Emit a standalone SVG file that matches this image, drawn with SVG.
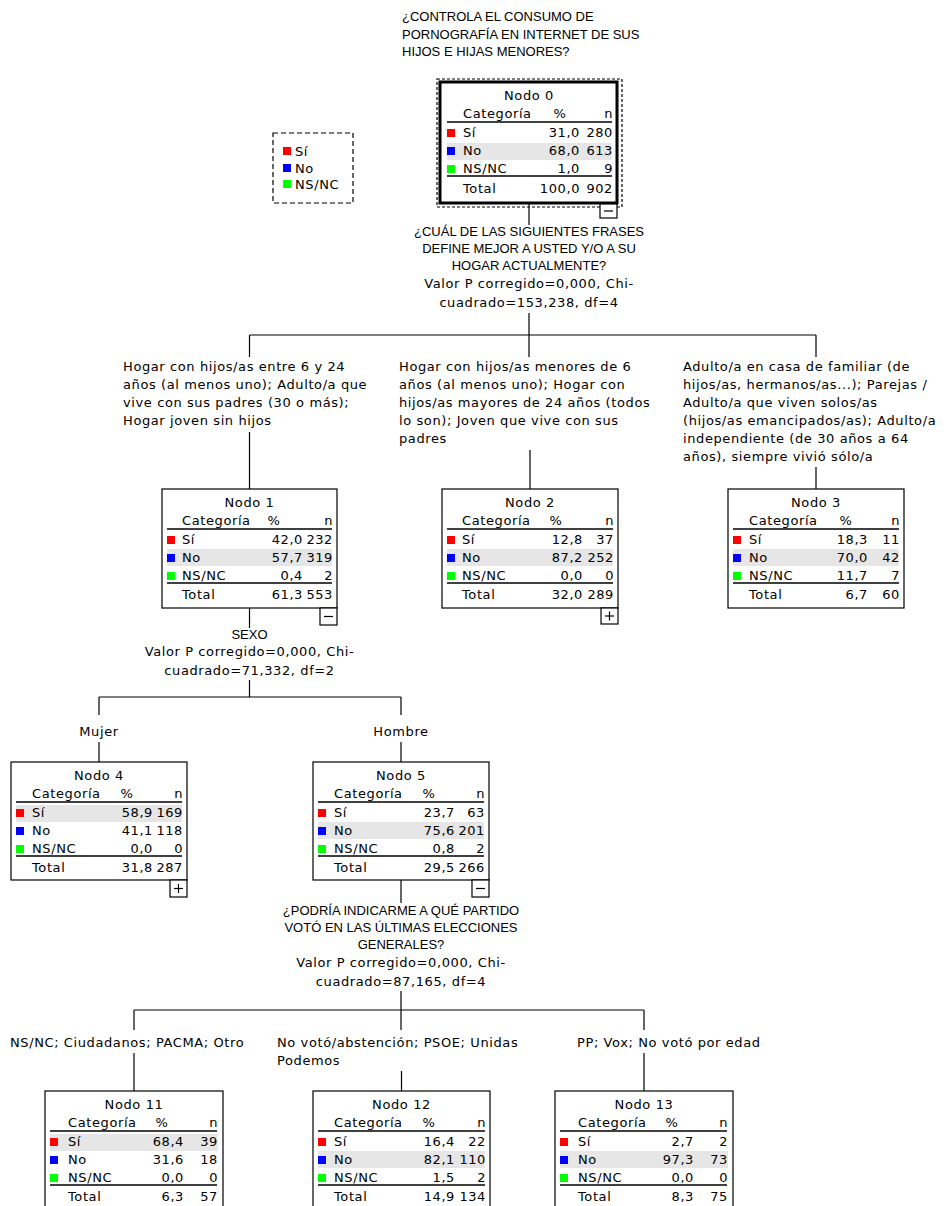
<svg xmlns="http://www.w3.org/2000/svg" width="948" height="1206" viewBox="0 0 948 1206">
<style>
.t{font-family:"DejaVu Sans",sans-serif;font-size:13px;letter-spacing:0.6px;fill:#000}
.q{font-family:"Liberation Sans",Arial,sans-serif;font-size:13px;fill:#000}
.m{text-anchor:middle}
.e{text-anchor:end}
.box{fill:#fff;stroke:#000;stroke-width:1.2}
.thick{fill:#fff;stroke:#000;stroke-width:3}
.rule{stroke:#000;stroke-width:1.6}
.hl{fill:#e6e6e6}
.r{fill:#ff0000}.b{fill:#0000ff}.g{fill:#00ff00}
.c{stroke:#000;stroke-width:1.2;fill:none}
.exp{fill:#fff;stroke:#000;stroke-width:1.2}
</style>
<defs>
<g id="cats">
<rect class="r" x="5" y="47" width="8" height="8"/>
<rect class="b" x="5" y="65" width="8" height="8"/>
<rect class="g" x="5" y="83" width="8" height="8"/>
</g>
</defs>

<!-- title -->
<g id="title">
<text class="q" x="402" y="21">¿CONTROLA EL CONSUMO DE</text>
<text class="q" x="402" y="39">PORNOGRAFÍA EN INTERNET DE SUS</text>
<text class="q" x="402" y="56">HIJOS E HIJAS MENORES?</text>
</g>

<!-- legend -->
<g id="legend">
<rect x="273" y="133" width="80" height="70" fill="none" stroke="#000" stroke-width="1.2" stroke-dasharray="5,3"/>
<rect class="r" x="283" y="147" width="8" height="8"/>
<rect class="b" x="283" y="164" width="8" height="8"/>
<rect class="g" x="283" y="180" width="8" height="8"/>
<text class="t" x="295" y="156">Sí</text>
<text class="t" x="295" y="173">No</text>
<text class="t" x="295" y="189">NS/NC</text>
</g>

<!-- connectors -->
<g id="connectors">
<line class="c" x1="529" y1="204" x2="529" y2="225"/>
<line class="c" x1="529" y1="313" x2="529" y2="335"/>
<line class="c" x1="249.5" y1="335" x2="816" y2="335"/>
<line class="c" x1="249.5" y1="335" x2="249.5" y2="357"/>
<line class="c" x1="529" y1="335" x2="529" y2="357"/>
<line class="c" x1="816" y1="335" x2="816" y2="357"/>
<line class="c" x1="249.5" y1="432" x2="249.5" y2="489"/>
<line class="c" x1="530" y1="450" x2="530" y2="489"/>
<line class="c" x1="816" y1="467" x2="816" y2="489"/>

<line class="c" x1="249.5" y1="608" x2="249.5" y2="628"/>
<line class="c" x1="249.5" y1="680" x2="249.5" y2="697"/>
<line class="c" x1="99" y1="697" x2="401" y2="697"/>
<line class="c" x1="99" y1="697" x2="99" y2="715"/>
<line class="c" x1="401" y1="697" x2="401" y2="715"/>
<line class="c" x1="99" y1="742" x2="99" y2="762"/>
<line class="c" x1="401" y1="742" x2="401" y2="762"/>

<line class="c" x1="401" y1="880" x2="401" y2="903"/>
<line class="c" x1="401" y1="991" x2="401" y2="1010"/>
<line class="c" x1="134" y1="1010" x2="644" y2="1010"/>
<line class="c" x1="134" y1="1010" x2="134" y2="1030"/>
<line class="c" x1="401" y1="1010" x2="401" y2="1030"/>
<line class="c" x1="644" y1="1010" x2="644" y2="1030"/>
<line class="c" x1="134" y1="1053" x2="134" y2="1091"/>
<line class="c" x1="401.5" y1="1071" x2="401.5" y2="1091"/>
<line class="c" x1="644" y1="1053" x2="644" y2="1091"/>
</g>

<!-- split labels -->
<g id="split0">
<text class="q m" x="529" y="236">¿CUÁL DE LAS SIGUIENTES FRASES</text>
<text class="q m" x="529" y="253">DEFINE MEJOR A USTED Y/O A SU</text>
<text class="q m" x="529" y="270">HOGAR ACTUALMENTE?</text>
<text class="t m" x="529" y="288">Valor P corregido=0,000, Chi-</text>
<text class="t m" x="529" y="307">cuadrado=153,238, df=4</text>
</g>
<g id="branches0">
<text class="t" x="123" y="371">Hogar con hijos/as entre 6 y 24</text>
<text class="t" x="123" y="389">años (al menos uno); Adulto/a que</text>
<text class="t" x="123" y="407">vive con sus padres (30 o más);</text>
<text class="t" x="123" y="425">Hogar joven sin hijos</text>
<text class="t" x="399" y="371">Hogar con hijos/as menores de 6</text>
<text class="t" x="399" y="389">años (al menos uno); Hogar con</text>
<text class="t" x="399" y="407">hijos/as mayores de 24 años (todos</text>
<text class="t" x="399" y="425">lo son); Joven que vive con sus</text>
<text class="t" x="399" y="443">padres</text>
<text class="t" x="683" y="371">Adulto/a en casa de familiar (de</text>
<text class="t" x="683" y="389">hijos/as, hermanos/as...); Parejas /</text>
<text class="t" x="683" y="407">Adulto/a que viven solos/as</text>
<text class="t" x="683" y="425">(hijos/as emancipados/as); Adulto/a</text>
<text class="t" x="683" y="443">independiente (de 30 años a 64</text>
<text class="t" x="683" y="461">años), siempre vivió sólo/a</text>
</g>
<g id="split1">
<text class="q m" x="249.5" y="639">SEXO</text>
<text class="t m" x="249.5" y="656">Valor P corregido=0,000, Chi-</text>
<text class="t m" x="249.5" y="675">cuadrado=71,332, df=2</text>
<text class="t m" x="99" y="736">Mujer</text>
<text class="t m" x="401" y="736">Hombre</text>
</g>
<g id="split5">
<text class="q m" x="401" y="915">¿PODRÍA INDICARME A QUÉ PARTIDO</text>
<text class="q m" x="401" y="932">VOTÓ EN LAS ÚLTIMAS ELECCIONES</text>
<text class="q m" x="401" y="949">GENERALES?</text>
<text class="t m" x="401" y="967">Valor P corregido=0,000, Chi-</text>
<text class="t m" x="401" y="986">cuadrado=87,165, df=4</text>
<text class="t" x="10" y="1047">NS/NC; Ciudadanos; PACMA; Otro</text>
<text class="t" x="277" y="1047">No votó/abstención; PSOE; Unidas</text>
<text class="t" x="277" y="1065">Podemos</text>
<text class="t" x="577" y="1047">PP; Vox; No votó por edad</text>
</g>

<!-- Node 0 -->
<g id="node0" transform="translate(440,82)">
<rect x="-3" y="-3" width="185" height="128" fill="none" stroke="#000" stroke-width="1.2" stroke-dasharray="3,2"/>
<rect class="thick" x="0" y="0" width="177" height="121"/>
<rect class="hl" x="7" y="61" width="165" height="17"/>
<text class="t m" x="89" y="18">Nodo 0</text>
<text class="t" x="23" y="36">Categoría</text>
<text class="t m" x="120" y="36">%</text>
<text class="t e" x="173" y="36">n</text>
<line class="rule" x1="7" y1="40" x2="172" y2="40"/>
<g transform="translate(2,0)"><use href="#cats"/></g>
<text class="t" x="23" y="55">Sí</text><text class="t e" x="140" y="55">31,0</text><text class="t e" x="173" y="55">280</text>
<text class="t" x="23" y="73">No</text><text class="t e" x="140" y="73">68,0</text><text class="t e" x="173" y="73">613</text>
<text class="t" x="23" y="91">NS/NC</text><text class="t e" x="140" y="91">1,0</text><text class="t e" x="173" y="91">9</text>
<line class="rule" x1="7" y1="94" x2="172" y2="94"/>
<text class="t" x="23" y="111">Total</text><text class="t e" x="140" y="111">100,0</text><text class="t e" x="173" y="111">902</text>
<rect class="exp" x="160" y="122" width="17" height="14"/>
<line class="c" x1="164" y1="129" x2="173" y2="129"/>
</g>

<!-- Node 1 -->
<g id="node1" transform="translate(162,489)">
<rect class="box" x="0" y="0" width="175" height="119"/>
<rect class="hl" x="5" y="60" width="165" height="17"/>
<text class="t m" x="87.5" y="18">Nodo 1</text>
<text class="t" x="20" y="36">Categoría</text>
<text class="t m" x="112" y="36">%</text>
<text class="t e" x="171" y="36">n</text>
<line class="rule" x1="5" y1="40" x2="170" y2="40"/>
<use href="#cats"/>
<text class="t" x="20" y="55">Sí</text><text class="t e" x="141" y="55">42,0</text><text class="t e" x="171" y="55">232</text>
<text class="t" x="20" y="73">No</text><text class="t e" x="141" y="73">57,7</text><text class="t e" x="171" y="73">319</text>
<text class="t" x="20" y="91">NS/NC</text><text class="t e" x="141" y="91">0,4</text><text class="t e" x="171" y="91">2</text>
<line class="rule" x1="5" y1="94" x2="170" y2="94"/>
<text class="t" x="20" y="110">Total</text><text class="t e" x="141" y="110">61,3</text><text class="t e" x="171" y="110">553</text>
<rect class="exp" x="158" y="119" width="17" height="17"/>
<line class="c" x1="162" y1="127.5" x2="171" y2="127.5"/>
</g>

<!-- Node 2 -->
<g id="node2" transform="translate(442,489)">
<rect class="box" x="0" y="0" width="176" height="119"/>
<rect class="hl" x="5" y="60" width="166" height="17"/>
<text class="t m" x="88" y="18">Nodo 2</text>
<text class="t" x="20" y="36">Categoría</text>
<text class="t m" x="114" y="36">%</text>
<text class="t e" x="172" y="36">n</text>
<line class="rule" x1="5" y1="40" x2="171" y2="40"/>
<use href="#cats"/>
<text class="t" x="20" y="55">Sí</text><text class="t e" x="141" y="55">12,8</text><text class="t e" x="172" y="55">37</text>
<text class="t" x="20" y="73">No</text><text class="t e" x="141" y="73">87,2</text><text class="t e" x="172" y="73">252</text>
<text class="t" x="20" y="91">NS/NC</text><text class="t e" x="141" y="91">0,0</text><text class="t e" x="172" y="91">0</text>
<line class="rule" x1="5" y1="94" x2="171" y2="94"/>
<text class="t" x="20" y="110">Total</text><text class="t e" x="141" y="110">32,0</text><text class="t e" x="172" y="110">289</text>
<rect class="exp" x="159" y="119" width="17" height="16"/>
<line class="c" x1="163" y1="127" x2="172" y2="127"/>
<line class="c" x1="167.5" y1="122.5" x2="167.5" y2="131.5"/>
</g>

<!-- Node 3 -->
<g id="node3" transform="translate(728,489)">
<rect class="box" x="0" y="0" width="176" height="119"/>
<rect class="hl" x="5" y="60" width="166" height="17"/>
<text class="t m" x="88" y="18">Nodo 3</text>
<text class="t" x="21" y="36">Categoría</text>
<text class="t m" x="118" y="36">%</text>
<text class="t e" x="172" y="36">n</text>
<line class="rule" x1="5" y1="40" x2="171" y2="40"/>
<use href="#cats"/>
<text class="t" x="21" y="55">Sí</text><text class="t e" x="140" y="55">18,3</text><text class="t e" x="172" y="55">11</text>
<text class="t" x="21" y="73">No</text><text class="t e" x="140" y="73">70,0</text><text class="t e" x="172" y="73">42</text>
<text class="t" x="21" y="91">NS/NC</text><text class="t e" x="140" y="91">11,7</text><text class="t e" x="172" y="91">7</text>
<line class="rule" x1="5" y1="94" x2="171" y2="94"/>
<text class="t" x="21" y="110">Total</text><text class="t e" x="140" y="110">6,7</text><text class="t e" x="172" y="110">60</text>
</g>

<!-- Node 4 -->
<g id="node4" transform="translate(11,762)">
<rect class="box" x="0" y="0" width="176" height="118"/>
<rect class="hl" x="5" y="43" width="166" height="17"/>
<text class="t m" x="88" y="18">Nodo 4</text>
<text class="t" x="21" y="36">Categoría</text>
<text class="t m" x="116" y="36">%</text>
<text class="t e" x="172" y="36">n</text>
<line class="rule" x1="5" y1="40" x2="171" y2="40"/>
<use href="#cats"/>
<text class="t" x="21" y="55">Sí</text><text class="t e" x="142" y="55">58,9</text><text class="t e" x="172" y="55">169</text>
<text class="t" x="21" y="73">No</text><text class="t e" x="142" y="73">41,1</text><text class="t e" x="172" y="73">118</text>
<text class="t" x="21" y="91">NS/NC</text><text class="t e" x="142" y="91">0,0</text><text class="t e" x="172" y="91">0</text>
<line class="rule" x1="5" y1="94" x2="171" y2="94"/>
<text class="t" x="21" y="110">Total</text><text class="t e" x="142" y="110">31,8</text><text class="t e" x="172" y="110">287</text>
<rect class="exp" x="159" y="118" width="17" height="17"/>
<line class="c" x1="163" y1="126.5" x2="172" y2="126.5"/>
<line class="c" x1="167.5" y1="122" x2="167.5" y2="131"/>
</g>

<!-- Node 5 -->
<g id="node5" transform="translate(313,762)">
<rect class="box" x="0" y="0" width="176" height="118"/>
<rect class="hl" x="5" y="60" width="166" height="17"/>
<text class="t m" x="88" y="18">Nodo 5</text>
<text class="t" x="21" y="36">Categoría</text>
<text class="t m" x="116" y="36">%</text>
<text class="t e" x="172" y="36">n</text>
<line class="rule" x1="5" y1="40" x2="171" y2="40"/>
<use href="#cats"/>
<text class="t" x="21" y="55">Sí</text><text class="t e" x="142" y="55">23,7</text><text class="t e" x="172" y="55">63</text>
<text class="t" x="21" y="73">No</text><text class="t e" x="142" y="73">75,6</text><text class="t e" x="172" y="73">201</text>
<text class="t" x="21" y="91">NS/NC</text><text class="t e" x="142" y="91">0,8</text><text class="t e" x="172" y="91">2</text>
<line class="rule" x1="5" y1="94" x2="171" y2="94"/>
<text class="t" x="21" y="110">Total</text><text class="t e" x="142" y="110">29,5</text><text class="t e" x="172" y="110">266</text>
<rect class="exp" x="159" y="118" width="17" height="17"/>
<line class="c" x1="163" y1="126.5" x2="172" y2="126.5"/>
</g>

<!-- Node 11 -->
<g id="node11" transform="translate(45,1091)">
<rect class="box" x="0" y="0" width="178" height="119"/>
<rect class="hl" x="5" y="43" width="168" height="17"/>
<text class="t m" x="89" y="18">Nodo 11</text>
<text class="t" x="23" y="36">Categoría</text>
<text class="t m" x="117" y="36">%</text>
<text class="t e" x="173" y="36">n</text>
<line class="rule" x1="5" y1="40" x2="172" y2="40"/>
<use href="#cats"/>
<text class="t" x="23" y="55">Sí</text><text class="t e" x="139" y="55">68,4</text><text class="t e" x="173" y="55">39</text>
<text class="t" x="23" y="73">No</text><text class="t e" x="139" y="73">31,6</text><text class="t e" x="173" y="73">18</text>
<text class="t" x="23" y="91">NS/NC</text><text class="t e" x="139" y="91">0,0</text><text class="t e" x="173" y="91">0</text>
<line class="rule" x1="5" y1="94" x2="172" y2="94"/>
<text class="t" x="23" y="110">Total</text><text class="t e" x="139" y="110">6,3</text><text class="t e" x="173" y="110">57</text>
</g>

<!-- Node 12 -->
<g id="node12" transform="translate(313,1091)">
<rect class="box" x="0" y="0" width="177" height="119"/>
<rect class="hl" x="5" y="60" width="167" height="17"/>
<text class="t m" x="88.5" y="18">Nodo 12</text>
<text class="t" x="21" y="36">Categoría</text>
<text class="t m" x="116" y="36">%</text>
<text class="t e" x="173" y="36">n</text>
<line class="rule" x1="5" y1="40" x2="172" y2="40"/>
<use href="#cats"/>
<text class="t" x="21" y="55">Sí</text><text class="t e" x="142" y="55">16,4</text><text class="t e" x="173" y="55">22</text>
<text class="t" x="21" y="73">No</text><text class="t e" x="142" y="73">82,1</text><text class="t e" x="173" y="73">110</text>
<text class="t" x="21" y="91">NS/NC</text><text class="t e" x="142" y="91">1,5</text><text class="t e" x="173" y="91">2</text>
<line class="rule" x1="5" y1="94" x2="172" y2="94"/>
<text class="t" x="21" y="110">Total</text><text class="t e" x="142" y="110">14,9</text><text class="t e" x="173" y="110">134</text>
</g>

<!-- Node 13 -->
<g id="node13" transform="translate(555,1091)">
<rect class="box" x="0" y="0" width="178" height="119"/>
<rect class="hl" x="5" y="60" width="168" height="17"/>
<text class="t m" x="89" y="18">Nodo 13</text>
<text class="t" x="23" y="36">Categoría</text>
<text class="t m" x="117" y="36">%</text>
<text class="t e" x="173" y="36">n</text>
<line class="rule" x1="5" y1="40" x2="172" y2="40"/>
<use href="#cats"/>
<text class="t" x="23" y="55">Sí</text><text class="t e" x="139" y="55">2,7</text><text class="t e" x="173" y="55">2</text>
<text class="t" x="23" y="73">No</text><text class="t e" x="139" y="73">97,3</text><text class="t e" x="173" y="73">73</text>
<text class="t" x="23" y="91">NS/NC</text><text class="t e" x="139" y="91">0,0</text><text class="t e" x="173" y="91">0</text>
<line class="rule" x1="5" y1="94" x2="172" y2="94"/>
<text class="t" x="23" y="110">Total</text><text class="t e" x="139" y="110">8,3</text><text class="t e" x="173" y="110">75</text>
</g>
</svg>
